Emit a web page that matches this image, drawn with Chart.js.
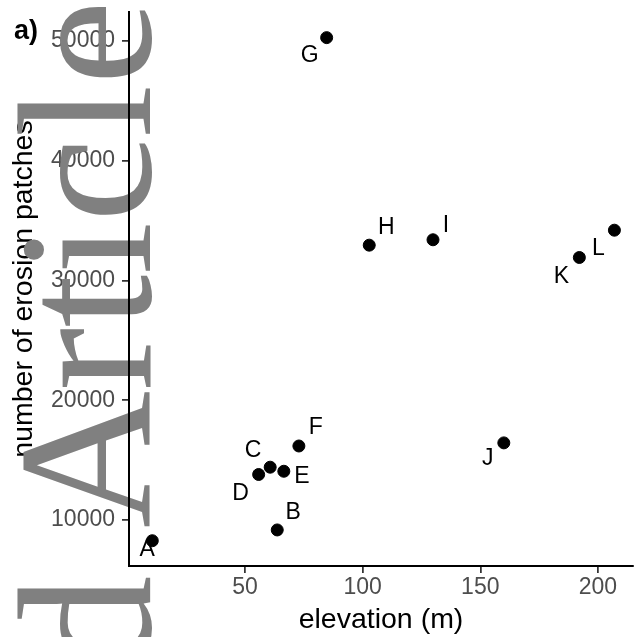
<!DOCTYPE html>
<html>
<head>
<meta charset="utf-8">
<script src="https://cdn.jsdelivr.net/npm/chart.js@4.4.1/dist/chart.umd.min.js"></script>
<style>
    html, body { margin: 0; padding: 0; background: #fff; overflow: hidden; }
    #wrap { position: relative; width: 635px; height: 637px; }
    #scatterChart { display: block; }
</style>
</head>
<body>
<div id="wrap"><canvas id="scatterChart"></canvas></div>
<script>
// ========================================
// Data
// ========================================
const siteNames = ['A', 'B', 'C', 'D', 'E', 'F', 'G', 'H', 'I', 'J', 'K', 'L'];
const elevation = [10.6, 63.7, 60.7, 55.8, 66.5, 72.9, 84.7, 102.8, 129.9, 160.0, 192.1, 207.0];
const erosionPatches = [8270, 9170, 14410, 13800, 14070, 16180, 50280, 32950, 33400, 16440, 31920, 34200];

const xTicks = [50, 100, 150, 200];
const yTicks = [10000, 20000, 30000, 40000, 50000];

// label nudges (px), like ggrepel placed them
const labelOffsets = [
    [-5, 9], [16, -17], [-17, -17], [-18, 19], [18, 5], [17, -18],
    [-17, 18], [17, -18], [13, -14], [-16, 16], [-18, 19], [-16, 18]
];

const FONT = '"Liberation Sans", Arial, Helvetica, sans-serif';

// ========================================
// Plugins
// ========================================
const pointLabels = {
    id: 'pointLabels',
    afterDatasetsDraw(chart) {
        const ctx = chart.ctx;
        const meta = chart.getDatasetMeta(0);
        ctx.save();
        ctx.font = '23px ' + FONT;
        ctx.fillStyle = '#000';
        ctx.textAlign = 'center';
        ctx.textBaseline = 'middle';
        meta.data.forEach((pt, i) => {
            const off = labelOffsets[i];
            ctx.fillText(siteNames[i], pt.x + off[0], pt.y + off[1]);
        });
        ctx.restore();
    }
};

const watermark = {
    id: 'watermark',
    afterDraw(chart) {
        const ctx = chart.ctx;
        ctx.save();
        ctx.font = '190px "Liberation Serif", "Times New Roman", serif';
        ctx.fillStyle = '#808080';
        ctx.textBaseline = 'alphabetic';
        ctx.translate(150, 528);
        ctx.rotate(-Math.PI / 2);
        ctx.textAlign = 'left';
        ctx.fillText('Article', 0, 0);
        const space = ctx.measureText(' ').width;
        ctx.textAlign = 'right';
        ctx.fillText('Accepted', -space, 0);
        ctx.restore();

        // axis lines and ticks sit on top of the watermark
        ['x', 'y'].forEach(id => {
            const s = chart.scales[id];
            s.drawGrid(chart.chartArea);
            s.drawBorder();
        });

        // panel tag
        ctx.save();
        ctx.font = 'bold 27px ' + FONT;
        ctx.fillStyle = '#000';
        ctx.textAlign = 'left';
        ctx.textBaseline = 'alphabetic';
        ctx.fillText('a)', 14, 39);
        ctx.restore();
    }
};

// no automatic room for edge tick labels, layout padding decides
function fixScale(s, size) {
    if (s.isHorizontal()) s.height = size;
    else s.width = size;
    s.paddingTop = 0;
    s.paddingBottom = 0;
    s.paddingLeft = 0;
    s.paddingRight = 0;
}

// ========================================
// Chart
// ========================================
function initChart() {
    const el = document.getElementById('scatterChart');

    new Chart(el, {
        type: 'scatter',
        data: {
            datasets: [{
                label: 'sites',
                data: elevation.map((x, i) => ({ x: x, y: erosionPatches[i] })),
                backgroundColor: '#000',
                borderColor: '#000',
                pointRadius: 6,
                pointHoverRadius: 6
            }]
        },
        options: {
            responsive: true,
            maintainAspectRatio: false,
            animation: false,
            layout: {
                autoPadding: false,
                padding: { top: 12, right: 2, left: 0, bottom: 0 }
            },
            plugins: {
                legend: { display: false },
                tooltip: { enabled: false }
            },
            scales: {
                x: {
                    type: 'linear',
                    min: 0.7,
                    max: 214.9,
                    afterFit: s => fixScale(s, 71),
                    afterBuildTicks: s => { s.ticks = xTicks.map(v => ({ value: v })); },
                    grid: {
                        display: true,
                        drawOnChartArea: false,
                        drawTicks: true,
                        tickLength: 7,
                        color: '#333',
                        lineWidth: 1.5
                    },
                    border: { display: true, color: '#000', width: 2 },
                    ticks: {
                        color: '#4d4d4d',
                        padding: 1,
                        maxRotation: 0,
                        font: { family: FONT, size: 23 },
                        callback: v => String(v)
                    },
                    title: {
                        display: true,
                        text: 'elevation (m)',
                        color: '#000',
                        padding: { top: 0, bottom: 0 },
                        font: { family: FONT, size: 28.5 }
                    }
                },
                y: {
                    type: 'linear',
                    min: 6159,
                    max: 52420,
                    afterFit: s => fixScale(s, 129),
                    afterBuildTicks: s => { s.ticks = yTicks.map(v => ({ value: v })); },
                    grid: {
                        display: true,
                        drawOnChartArea: false,
                        drawTicks: true,
                        tickLength: 7,
                        color: '#333',
                        lineWidth: 1.5
                    },
                    border: { display: true, color: '#000', width: 2 },
                    ticks: {
                        color: '#4d4d4d',
                        padding: 7,
                        font: { family: FONT, size: 23 },
                        callback: v => String(v)
                    },
                    title: {
                        display: true,
                        text: 'number of erosion patches',
                        color: '#000',
                        padding: { top: 7, bottom: 0 },
                        font: { family: FONT, size: 28.5 }
                    }
                }
            }
        },
        plugins: [pointLabels, watermark]
    });
}

initChart();
</script>
</body>
</html>
